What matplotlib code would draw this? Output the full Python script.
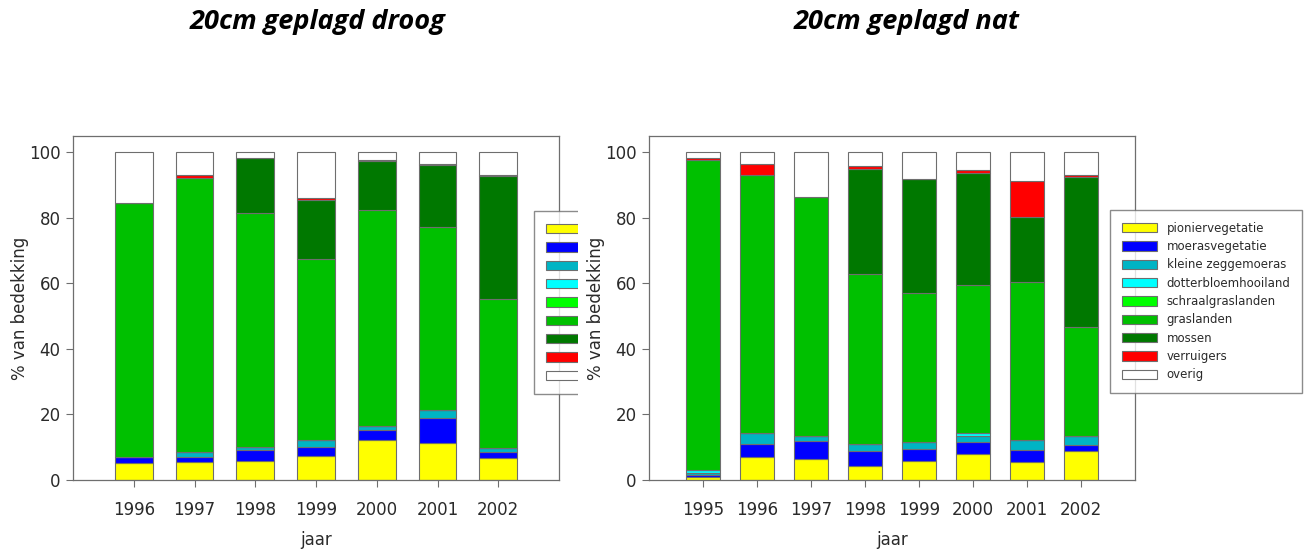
import matplotlib.pyplot as plt
from matplotlib.patches import Patch, Rectangle

# categories and colours
categories = ['pioniervegetatie', 'moerasvegetatie', 'kleine zeggemoeras',
              'dotterbloemhooiland', 'schraalgraslanden', 'graslanden',
              'mossen', 'verruigers', 'overig']
colors = ['#ffff00', '#0000ff', '#00b4c4', '#00ffff', '#00ff00',
          '#00c000', '#007800', '#ff0000', '#ffffff']

# 20cm geplagd droog
years_droog = ['1996', '1997', '1998', '1999', '2000', '2001', '2002']
droog_pionier = [5.2, 5.4, 5.9, 7.4, 12.3, 11.3, 6.6]
droog_moeras = [1.7, 1.5, 3.1, 2.6, 2.8, 7.6, 1.9]
droog_kleine = [0.0, 1.6, 1.0, 2.3, 1.3, 2.3, 1.3]
droog_dotter = [0, 0, 0, 0, 0, 0, 0]
droog_schraal = [0, 0, 0, 0, 0, 0, 0]
droog_gras = [77.6, 83.6, 71.4, 55.0, 66.0, 55.9, 45.4]
droog_mossen = [0.0, 0.0, 16.8, 18.0, 14.8, 18.9, 37.5]
droog_verruigers = [0.0, 0.9, 0.0, 0.7, 0.6, 0.4, 0.3]
droog_overig = [15.5, 7.0, 1.8, 14.0, 2.2, 3.6, 7.0]

# 20cm geplagd nat
years_nat = ['1995', '1996', '1997', '1998', '1999', '2000', '2001', '2002']
nat_pionier = [0.8, 6.9, 6.4, 4.1, 5.7, 7.8, 5.6, 8.8]
nat_moeras = [0.8, 4.1, 5.4, 4.7, 3.6, 3.7, 3.6, 1.9]
nat_kleine = [0.5, 3.4, 1.5, 2.2, 2.2, 1.8, 3.0, 2.7]
nat_dotter = [1.0, 0.0, 0.0, 0.0, 0.0, 1.1, 0.0, 0.0]
nat_schraal = [0, 0, 0, 0, 0, 0, 0, 0]
nat_gras = [94.7, 78.6, 73.0, 51.8, 45.7, 45.1, 48.1, 33.3]
nat_mossen = [0.0, 0.0, 0.0, 32.2, 34.6, 34.2, 20.1, 45.7]
nat_verruigers = [0.5, 3.5, 0.0, 0.9, 0.0, 1.0, 10.7, 0.7]
nat_overig = [1.7, 3.5, 13.7, 4.1, 8.2, 5.3, 8.9, 6.9]

droog = [droog_pionier, droog_moeras, droog_kleine, droog_dotter, droog_schraal,
         droog_gras, droog_mossen, droog_verruigers, droog_overig]
nat = [nat_pionier, nat_moeras, nat_kleine, nat_dotter, nat_schraal,
       nat_gras, nat_mossen, nat_verruigers, nat_overig]

plt.rcParams['font.family'] = ['DejaVu Sans']
edge = '#6e6e6e'
txt = '#2a2a2a'

fig = plt.figure(figsize=(13.16, 5.51), dpi=100)
ax1 = fig.add_axes([0.0555, 0.129, 0.3693, 0.6243])
ax2 = fig.add_axes([0.4932, 0.129, 0.3693, 0.6243])
# right panel sits on top, so the left legend looks cut off
ax2.set_zorder(7)


def stacked(ax, years, series):
    x = range(len(years))
    bottom = [0.0] * len(years)
    for vals, col in zip(series, colors):
        ax.bar(x, vals, 0.62, bottom=bottom, color=col, edgecolor=edge, linewidth=0.8)
        bottom = [b + v for b, v in zip(bottom, vals)]
    ax.set_xlim(-1, len(years))
    ax.set_ylim(0, 105)
    ax.set_xticks(list(x))
    ax.set_xticklabels(years)
    ax.set_yticks([0, 20, 40, 60, 80, 100])
    ax.tick_params(direction='out', length=5, width=0.8, color=edge,
                   labelsize=12, labelcolor=txt)
    ax.tick_params(axis='x', pad=10)
    ax.tick_params(axis='y', pad=4)
    for s in ax.spines.values():
        s.set_color(edge)
        s.set_linewidth(0.9)
    ax.set_xlabel('jaar', fontsize=12, color=txt)
    ax.xaxis.set_label_coords(0.5, -0.148)
    ax.set_ylabel('% van bedekking', fontsize=12, color=txt, va='center')
    ax.yaxis.set_label_coords(-0.11, 0.5)


stacked(ax1, years_droog, droog)
stacked(ax2, years_nat, nat)

handles = [Patch(facecolor=c, edgecolor=edge, linewidth=0.8) for c in colors]
leg_kw = dict(loc='upper left', frameon=True, fancybox=False, edgecolor=edge,
              fontsize=8.5, handlelength=3.0, handleheight=0.85,
              labelspacing=0.45, borderpad=1.0, borderaxespad=0)

# left legend: only the swatches, cut off on the right side
fig.legend(handles, [''] * len(handles), bbox_to_anchor=(534 / 1316, 1 - 211 / 551),
           handletextpad=0.0, **leg_kw)
fig.patches.append(Rectangle((578 / 1316, 1 - 405 / 551), 20 / 1316, 200 / 551,
                             transform=fig.transFigure, facecolor='white',
                             edgecolor='none', zorder=6))

ax2.legend(handles, categories, bbox_to_anchor=(1110 / 1316, 1 - 210 / 551),
           bbox_transform=fig.transFigure, handletextpad=0.8, labelcolor=txt,
           **leg_kw)

fig.text(318 / 1316, 1 - 22 / 551, '20cm geplagd droog', ha='center', va='center',
         fontsize=19.5, fontweight='bold', fontstyle='italic', family='Open Sans')
fig.text(907 / 1316, 1 - 22 / 551, '20cm geplagd nat', ha='center', va='center',
         fontsize=19.5, fontweight='bold', fontstyle='italic', family='Open Sans')

fig.savefig('out.png', dpi=100)
